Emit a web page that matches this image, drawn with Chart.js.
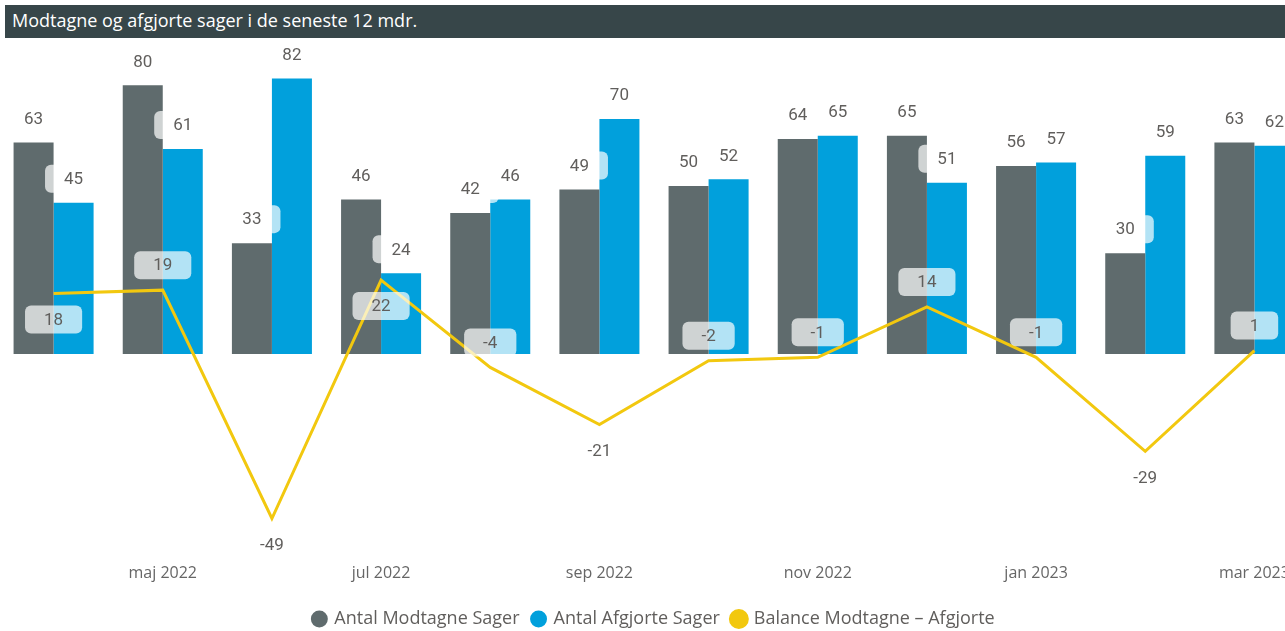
<!DOCTYPE html>
<html>
<head>
<meta charset="utf-8">
<script src="https://cdn.jsdelivr.net/npm/chart.js@4.4.1/dist/chart.umd.min.js"></script>
<style>
  html, body { margin: 0; padding: 0; background: #fff; overflow: hidden; width: 1285px; height: 631px; }
  #title {
    position: absolute; left: 5px; top: 5px; width: 1280px; height: 33px;
    background: #374649; color: #fff; font: 18px "Open Sans", sans-serif;
    line-height: 31px; padding-left: 7px; box-sizing: border-box;
  }
  #wrap { position: absolute; left: -1px; top: 40px; width: 1310px; height: 600px; }
</style>
</head>
<body>
<div id="title">Modtagne og afgjorte sager i de seneste 12 mdr.</div>
<div id="wrap"><canvas id="chart"></canvas></div>
<script>
// === Data ===
const months = ['apr 2022', 'maj 2022', 'jun 2022', 'jul 2022', 'aug 2022', 'sep 2022',
  'okt 2022', 'nov 2022', 'dec 2022', 'jan 2023', 'feb 2023', 'mar 2023'];
const modtagne = [63, 80, 33, 46, 42, 49, 50, 64, 65, 56, 30, 63];
const afgjorte = [45, 61, 82, 24, 46, 70, 52, 65, 51, 57, 59, 62];
const balance = [18, 19, -49, 22, -4, -21, -2, -1, 14, -1, -29, 1];

// where the balance labels sit relative to the line point
const balanceLabelSide = ['below', 'above', 'below', 'below', 'above', 'below',
  'above', 'above', 'above', 'above', 'below', 'above'];

const GREY = '#5f6b6d';
const BLUE = '#01a0dc';
const YELLOW = '#f2c80f';
const TEXT = '#605e5c';

// === Data labels with rounded translucent boxes ===
const valueLabels = {
  id: 'valueLabels',
  afterDatasetsDraw(chart) {
    const ctx = chart.ctx;
    ctx.save();
    ctx.font = '17px Roboto, sans-serif';
    ctx.textAlign = 'center';
    ctx.textBaseline = 'middle';
    chart.data.datasets.forEach((ds, di) => {
      const meta = chart.getDatasetMeta(di);
      meta.data.forEach((el, i) => {
        const txt = String(ds.data[i]);
        let y;
        if (ds.type === 'line') {
          y = el.y + (balanceLabelSide[i] === 'below' ? 26 : -25);
        } else {
          y = el.y - 24;
        }
        const w = ctx.measureText(txt).width + 38;
        const h = 28;
        ctx.fillStyle = 'rgba(255,255,255,0.7)';
        ctx.beginPath();
        ctx.roundRect(el.x - w / 2, y - h / 2, w, h, 6);
        ctx.fill();
        ctx.fillStyle = TEXT;
        ctx.fillText(txt, el.x, y + 1);
      });
    });
    ctx.restore();
  }
};

new Chart(document.getElementById('chart'), {
  type: 'bar',
  data: {
    labels: months,
    datasets: [
      { label: 'Antal Modtagne Sager', data: modtagne, backgroundColor: GREY, order: 1,
        barPercentage: 1, categoryPercentage: 0.733 },
      { label: 'Antal Afgjorte Sager', data: afgjorte, backgroundColor: BLUE, order: 1,
        barPercentage: 1, categoryPercentage: 0.733 },
      { type: 'line', label: 'Balance Modtagne – Afgjorte', data: balance, order: 0,
        borderColor: YELLOW, backgroundColor: YELLOW, borderWidth: 3, pointRadius: 0,
        tension: 0, fill: false }
    ]
  },
  options: {
    responsive: true,
    maintainAspectRatio: false,
    animation: false,
    layout: { padding: { top: 5, left: 0, right: 0, bottom: 2 } },
    plugins: {
      tooltip: { enabled: false },
      legend: {
        position: 'bottom',
        labels: {
          usePointStyle: true, pointStyle: 'circle', boxWidth: 12, boxHeight: 12,
          padding: 13, color: TEXT, font: { family: 'Open Sans', size: 18 },
          sort: (a, b) => a.datasetIndex - b.datasetIndex
        }
      }
    },
    scales: {
      x: {
        grid: { display: false, drawTicks: false },
        border: { display: false },
        ticks: {
          autoSkip: false, maxRotation: 0, padding: 5, color: '#666',
          font: { family: 'Open Sans', size: 16 },
          callback: (v, i) => (i % 2 === 1 ? months[i] : '')
        },
        afterFit: scale => { scale.height += 9; }
      },
      y: { display: false, min: -61, max: 92 }
    }
  },
  plugins: [valueLabels]
});
</script>
</body>
</html>
